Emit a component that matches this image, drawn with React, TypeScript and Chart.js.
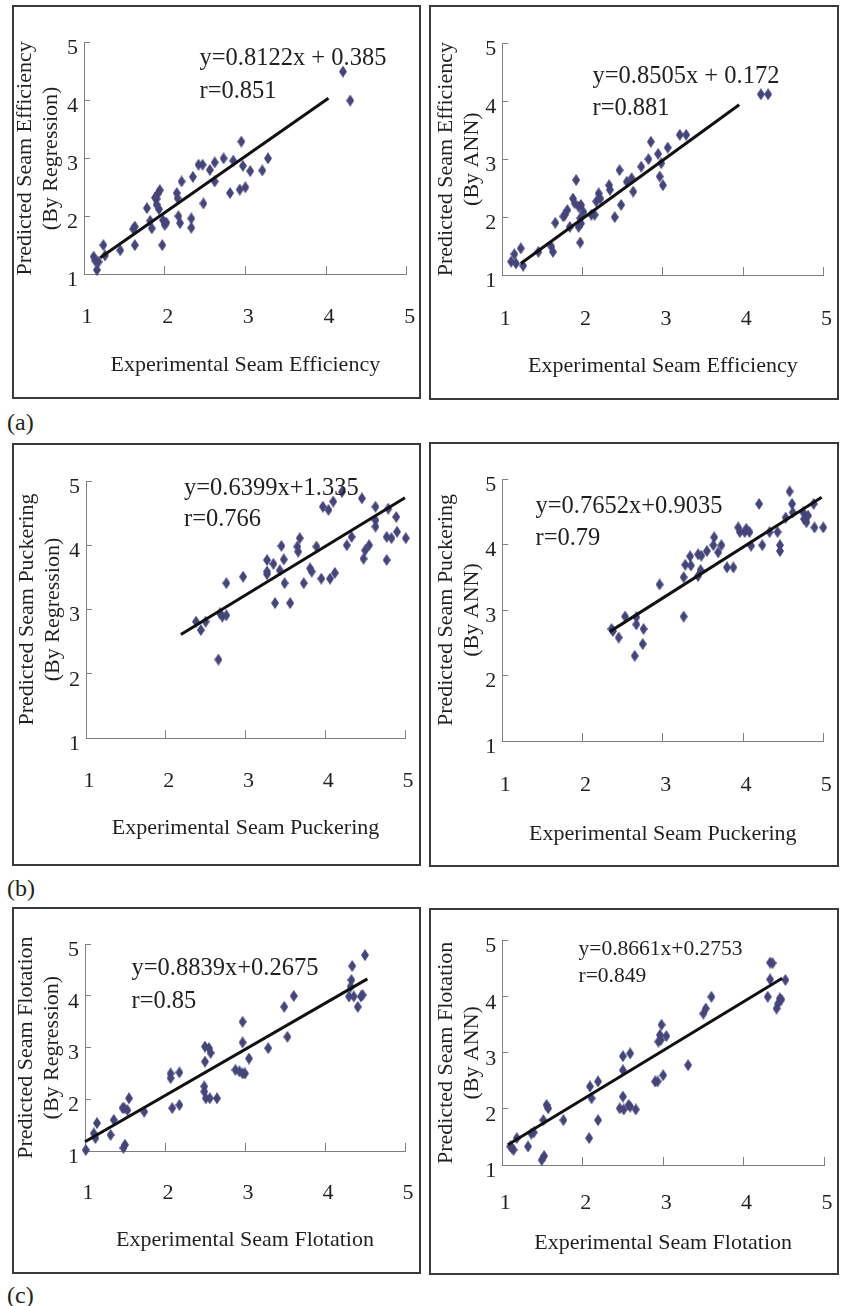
import React, { useEffect, useRef } from 'react';
import { Chart, registerables } from 'chart.js';

Chart.register(...registerables);

const FONT = '"Liberation Serif", "Times New Roman", serif';
const INK = '#231f20';
const MARK = '#45457a';
const AXIS = '#808080';

// ---------- (a) Seam efficiency ----------
const effRegX = [4.21, 4.30, 2.95, 2.73, 2.85, 3.28, 2.62, 2.56, 2.62, 2.42, 2.47, 2.35, 2.21, 2.97, 3.06, 3.21, 2.81, 2.93, 3.00, 2.48, 2.15, 2.16, 2.17, 2.19, 2.33, 2.33, 1.92, 1.90, 1.88, 1.94, 1.93, 1.90, 1.78, 1.82, 1.84, 1.98, 2.00, 2.02, 1.97, 1.63, 1.61, 1.63, 1.45, 1.24, 1.26, 1.12, 1.14, 1.18, 1.16];
const effRegY = [4.50, 4.00, 3.29, 3.00, 2.96, 3.00, 2.93, 2.80, 2.60, 2.89, 2.89, 2.68, 2.60, 2.87, 2.78, 2.79, 2.40, 2.46, 2.50, 2.22, 2.40, 2.31, 2.00, 1.88, 1.96, 1.80, 2.40, 2.30, 2.32, 2.45, 2.12, 2.20, 2.14, 1.92, 1.79, 1.93, 1.85, 1.89, 1.50, 1.82, 1.78, 1.50, 1.41, 1.50, 1.32, 1.30, 1.23, 1.21, 1.07];
const effRegLineX = [1.20, 4.03];
const effRegLineY = [1.28, 4.04];

const effAnnX = [4.22, 4.31, 3.21, 3.29, 2.85, 3.06, 2.94, 2.82, 2.73, 2.98, 2.96, 3.00, 2.46, 2.61, 2.55, 2.63, 2.48, 2.40, 2.33, 2.34, 2.20, 2.22, 2.17, 2.15, 2.11, 1.92, 1.88, 1.90, 1.95, 1.98, 2.01, 1.97, 1.98, 1.95, 1.97, 1.81, 1.78, 1.76, 1.84, 1.66, 1.61, 1.63, 1.45, 1.23, 1.15, 1.11, 1.17, 1.26];
const effAnnY = [4.12, 4.12, 3.42, 3.42, 3.30, 3.20, 3.09, 3.00, 2.87, 2.93, 2.70, 2.55, 2.81, 2.67, 2.61, 2.44, 2.21, 2.00, 2.55, 2.47, 2.41, 2.32, 2.27, 2.04, 2.04, 2.64, 2.32, 2.24, 2.18, 2.21, 2.09, 1.98, 1.89, 1.83, 1.56, 2.12, 2.04, 2.01, 1.83, 1.90, 1.49, 1.40, 1.40, 1.46, 1.36, 1.23, 1.20, 1.16];
const effAnnLineX = [1.23, 3.95];
const effAnnLineY = [1.20, 3.94];

// ---------- (b) Seam puckering ----------
const puckRegX = [2.38, 2.44, 2.50, 2.66, 2.68, 2.71, 2.76, 2.76, 2.97, 3.27, 3.27, 3.27, 3.35, 3.45, 3.48, 3.43, 3.49, 3.37, 3.56, 3.65, 3.68, 3.66, 3.73, 3.81, 3.83, 3.89, 3.95, 4.06, 4.12, 3.97, 4.04, 4.10, 4.21, 4.27, 4.33, 4.46, 4.48, 4.50, 4.55, 4.63, 4.63, 4.63, 4.77, 4.77, 4.79, 4.83, 4.89, 4.90, 5.01];
const puckRegY = [2.81, 2.68, 2.81, 2.22, 2.94, 2.89, 2.91, 3.41, 3.51, 3.77, 3.59, 3.55, 3.71, 3.99, 3.78, 3.61, 3.41, 3.10, 3.10, 3.98, 4.11, 3.90, 3.41, 3.64, 3.59, 3.98, 3.48, 3.48, 3.57, 4.60, 4.55, 4.68, 4.83, 4.00, 4.13, 4.73, 3.79, 3.92, 4.00, 4.60, 4.39, 4.29, 3.77, 4.13, 4.57, 4.11, 4.44, 4.21, 4.11];
const puckRegLineX = [2.19, 5.00];
const puckRegLineY = [2.61, 4.74];

const puckAnnX = [2.36, 2.38, 2.45, 2.53, 2.67, 2.67, 2.65, 2.76, 2.75, 2.96, 3.26, 3.26, 3.28, 3.34, 3.35, 3.44, 3.44, 3.48, 3.47, 3.55, 3.63, 3.64, 3.69, 3.73, 3.80, 3.88, 3.94, 3.96, 4.02, 4.04, 4.08, 4.10, 4.20, 4.24, 4.33, 4.43, 4.46, 4.46, 4.53, 4.58, 4.61, 4.62, 4.75, 4.76, 4.79, 4.81, 4.88, 4.89, 5.00];
const puckAnnY = [2.71, 2.68, 2.58, 2.90, 2.89, 2.78, 2.30, 2.71, 2.48, 3.39, 3.50, 2.90, 3.69, 3.82, 3.68, 3.52, 3.85, 3.83, 3.61, 3.90, 3.99, 4.11, 3.88, 3.99, 3.65, 3.65, 4.26, 4.19, 4.19, 4.24, 4.19, 3.98, 4.62, 3.99, 4.19, 4.19, 3.99, 3.90, 4.41, 4.81, 4.62, 4.49, 4.49, 4.39, 4.34, 4.44, 4.62, 4.26, 4.26];
const puckAnnLineX = [2.34, 4.98];
const puckAnnLineY = [2.67, 4.72];

// ---------- (c) Seam flotation ----------
const flotRegX = [1.01, 1.11, 1.13, 1.15, 1.32, 1.36, 1.47, 1.50, 1.49, 1.53, 1.55, 1.74, 2.07, 2.07, 2.18, 2.09, 2.18, 2.50, 2.55, 2.57, 2.50, 2.49, 2.49, 2.51, 2.56, 2.65, 2.88, 2.93, 2.97, 3.00, 2.97, 2.97, 3.05, 3.29, 3.49, 3.53, 3.61, 4.30, 4.34, 4.33, 4.36, 4.41, 4.45, 4.47, 4.50, 4.32, 1.48];
const flotRegY = [1.02, 1.34, 1.25, 1.54, 1.31, 1.60, 1.83, 1.12, 1.83, 1.79, 2.02, 1.76, 2.50, 2.41, 2.52, 1.83, 1.89, 3.02, 2.99, 2.90, 2.73, 2.25, 2.15, 2.02, 2.02, 2.02, 2.57, 2.54, 2.50, 2.50, 3.10, 3.50, 2.79, 2.99, 3.79, 3.21, 4.00, 3.99, 4.58, 4.31, 3.99, 3.79, 3.99, 4.02, 4.79, 4.18, 1.06];
const flotRegLineX = [1.00, 4.53];
const flotRegLineY = [1.18, 4.33];

const flotAnnX = [1.12, 1.14, 1.10, 1.18, 1.32, 1.39, 1.36, 1.49, 1.52, 1.51, 1.55, 1.57, 1.76, 2.08, 2.09, 2.11, 2.19, 2.19, 2.46, 2.50, 2.51, 2.57, 2.59, 2.66, 2.50, 2.50, 2.59, 2.90, 2.93, 3.00, 2.94, 2.97, 2.96, 2.98, 3.04, 3.31, 3.50, 3.53, 3.60, 4.30, 4.33, 4.33, 4.36, 4.41, 4.43, 4.45, 4.47, 4.52];
const flotAnnY = [1.30, 1.27, 1.33, 1.48, 1.33, 1.58, 1.56, 1.09, 1.16, 1.80, 2.07, 2.01, 1.80, 1.48, 2.40, 2.19, 2.49, 1.80, 2.01, 2.22, 1.99, 2.07, 2.04, 1.99, 2.69, 2.94, 2.99, 2.49, 2.49, 2.60, 3.20, 3.23, 3.32, 3.50, 3.30, 2.78, 3.70, 3.79, 4.00, 4.00, 4.31, 4.61, 4.60, 3.79, 3.88, 3.97, 3.95, 4.30];
const flotAnnLineX = [1.07, 4.48];
const flotAnnLineY = [1.36, 4.33];

// axis range / ticks
const axisMin = 1;
const axisMax = 5;
const axisStep = 1;

type Spec = {
  xs: number[]; ys: number[]; lx: number[]; ly: number[];
  xTitle: string; yTitle: string[]; eq: string; r: string;
  bx: number; by: number; bw: number; bh: number;
  padTop: number; padRight: number; yAxisW: number; xAxisH: number;
  xTickPad: number; xTitlePad: number; yTitlePad: number;
  eqX: number; eqY1: number; eqY2: number; eqSize: number;
};

const panels: Spec[] = [
  {
    xs: effRegX, ys: effRegY, lx: effRegLineX, ly: effRegLineY,
    xTitle: 'Experimental Seam Efficiency', yTitle: ['Predicted Seam Efficiency', '(By Regression)'],
    eq: 'y=0.8122x + 0.385', r: 'r=0.851',
    bx: 12, by: 5, bw: 409, bh: 394,
    padTop: 37.7, padRight: 14.3, yAxisW: 72, xAxisH: 125,
    xTickPad: 37.8, xTitlePad: 21, yTitlePad: 0.7,
    eqX: 187.5, eqY1: 53.5, eqY2: 87, eqSize: 24.5,
  },
  {
    xs: effAnnX, ys: effAnnY, lx: effAnnLineX, ly: effAnnLineY,
    xTitle: 'Experimental Seam Efficiency', yTitle: ['Predicted Seam Efficiency', '(By ANN)'],
    eq: 'y=0.8505x + 0.172', r: 'r=0.881',
    bx: 429, by: 5, bw: 410, bh: 395,
    padTop: 38.3, padRight: 15.5, yAxisW: 73.3, xAxisH: 125,
    xTickPad: 38.8, xTitlePad: 21, yTitlePad: 4.7,
    eqX: 163.5, eqY1: 72, eqY2: 104, eqSize: 24.5,
  },
  {
    xs: puckRegX, ys: puckRegY, lx: puckRegLineX, ly: puckRegLineY,
    xTitle: 'Experimental Seam Puckering', yTitle: ['Predicted Seam Puckering', '(By Regression)'],
    eq: 'y=0.6399x+1.335', r: 'r=0.766',
    bx: 12, by: 443, bw: 409, bh: 423,
    padTop: 38, padRight: 16, yAxisW: 74, xAxisH: 128,
    xTickPad: 38.5, xTitlePad: 25, yTitlePad: 2.5,
    eqX: 172, eqY1: 45.5, eqY2: 77, eqSize: 24.5,
  },
  {
    xs: puckAnnX, ys: puckAnnY, lx: puckAnnLineX, ly: puckAnnLineY,
    xTitle: 'Experimental Seam Puckering', yTitle: ['Predicted Seam Puckering', '(By ANN)'],
    eq: 'y=0.7652x+0.9035', r: 'r=0.79',
    bx: 429, by: 442, bw: 410, bh: 425,
    padTop: 37, padRight: 15.7, yAxisW: 73.3, xAxisH: 126,
    xTickPad: 38.6, xTitlePad: 20, yTitlePad: 4.7,
    eqX: 106.5, eqY1: 65, eqY2: 97, eqSize: 24.5,
  },
  {
    xs: flotRegX, ys: flotRegY, lx: flotRegLineX, ly: flotRegLineY,
    xTitle: 'Experimental Seam Flotation', yTitle: ['Predicted Seam Flotation', '(By Regression)'],
    eq: 'y=0.8839x+0.2675', r: 'r=0.85',
    bx: 12, by: 907, bw: 409, bh: 367,
    padTop: 37.3, padRight: 16, yAxisW: 73, xAxisH: 123,
    xTickPad: 36.8, xTitlePad: 21, yTitlePad: 1.7,
    eqX: 119.5, eqY1: 61.3, eqY2: 94.7, eqSize: 24.5,
  },
  {
    xs: flotAnnX, ys: flotAnnY, lx: flotAnnLineX, ly: flotAnnLineY,
    xTitle: 'Experimental Seam Flotation', yTitle: ['Predicted Seam Flotation', '(By ANN)'],
    eq: 'y=0.8661x+0.2753', r: 'r=0.849',
    bx: 429, by: 908, bw: 410, bh: 367,
    padTop: 32.7, padRight: 15, yAxisW: 73.3, xAxisH: 110,
    xTickPad: 32.8, xTitlePad: 19.3, yTitlePad: 4.7,
    eqX: 149.5, eqY1: 41.3, eqY2: 68.7, eqSize: 21.5,
  },
];

const groupLabels = [
  { text: '(a)', top: 409.5 },
  { text: '(b)', top: 876 },
  { text: '(c)', top: 1283 },
];

function makeDiamond(): HTMLCanvasElement {
  const c = document.createElement('canvas');
  c.width = 8;
  c.height = 12;
  const g = c.getContext('2d')!;
  g.fillStyle = MARK;
  g.beginPath();
  g.moveTo(4, 0);
  g.lineTo(8, 6);
  g.lineTo(4, 12);
  g.lineTo(0, 6);
  g.closePath();
  g.fill();
  return c;
}

function Panel({ p }: { p: Spec }) {
  const ref = useRef<HTMLCanvasElement>(null);
  useEffect(() => {
    const canvas = ref.current!;
    const diamond = makeDiamond();
    const pts = p.xs.map((x, i) => ({ x, y: p.ys[i] }));
    const line = p.lx.map((x, i) => ({ x, y: p.ly[i] }));
    const eqPlugin = {
      id: 'eqText',
      afterDraw(chart: any) {
        const ctx = chart.ctx as CanvasRenderingContext2D;
        ctx.save();
        ctx.font = `${p.eqSize}px ${FONT}`;
        ctx.fillStyle = INK;
        ctx.textBaseline = 'middle';
        ctx.textAlign = 'left';
        ctx.fillText(p.eq, p.eqX, p.eqY1);
        ctx.fillText(p.r, p.eqX, p.eqY2);
        ctx.restore();
      },
    };
    const noAutoPad = (s: any) => {
      s.paddingLeft = 0;
      s.paddingRight = 0;
      s.paddingTop = 0;
      s.paddingBottom = 0;
    };
    const chart = new Chart(canvas, {
      type: 'scatter',
      data: {
        datasets: [
          {
            data: line,
            showLine: true,
            borderColor: '#111111',
            borderWidth: 3,
            pointRadius: 0,
            clip: false,
          } as any,
          {
            data: pts,
            pointStyle: diamond as any,
            pointRadius: 6,
            backgroundColor: MARK,
            borderWidth: 0,
            clip: false,
          } as any,
        ],
      },
      options: {
        responsive: false,
        animation: false,
        devicePixelRatio: 1,
        layout: { autoPadding: false, padding: { left: 0, top: p.padTop, right: p.padRight, bottom: 0 } },
        plugins: { legend: { display: false }, tooltip: { enabled: false } },
        scales: {
          x: {
            type: 'linear',
            position: 'bottom',
            min: axisMin,
            max: axisMax,
            ticks: {
              stepSize: axisStep,
              padding: p.xTickPad,
              labelOffset: 3,
              maxRotation: 0,
              autoSkip: false,
              color: INK,
              font: { family: FONT, size: 22 },
            },
            grid: { drawOnChartArea: false, drawTicks: true, tickLength: -8, color: AXIS, lineWidth: 1 },
            border: { color: AXIS, width: 1 },
            title: {
              display: true,
              text: p.xTitle,
              color: INK,
              font: { family: FONT, size: 22, lineHeight: 1.18 },
              padding: { top: 0, bottom: p.xTitlePad },
            },
            afterFit: (s: any) => {
              s.height = p.xAxisH;
              noAutoPad(s);
            },
          },
          y: {
            type: 'linear',
            position: 'left',
            min: axisMin,
            max: axisMax,
            ticks: {
              stepSize: axisStep,
              padding: 12,
              labelOffset: 6,
              color: INK,
              font: { family: FONT, size: 22 },
            },
            grid: { drawOnChartArea: false, drawTicks: true, tickLength: -6, color: AXIS, lineWidth: 1 },
            border: { color: AXIS, width: 1 },
            title: {
              display: true,
              text: p.yTitle,
              color: INK,
              font: { family: FONT, size: 22, lineHeight: 1.18 },
              padding: { top: p.yTitlePad, bottom: 0 },
            },
            afterFit: (s: any) => {
              s.width = p.yAxisW;
              noAutoPad(s);
            },
          },
        },
      } as any,
      plugins: [eqPlugin],
    });
    return () => chart.destroy();
  }, [p]);

  return (
    <>
      <canvas
        ref={ref}
        width={p.bw}
        height={p.bh}
        style={{ position: 'absolute', left: p.bx, top: p.by, width: p.bw, height: p.bh }}
      />
      <div
        style={{
          position: 'absolute',
          left: p.bx,
          top: p.by,
          width: p.bw,
          height: p.bh,
          border: '2px solid #3a3a3a',
          boxSizing: 'border-box',
          pointerEvents: 'none',
        }}
      />
    </>
  );
}

export default function App() {
  return (
    <div
      style={{
        position: 'absolute',
        left: 0,
        top: 0,
        width: 843,
        height: 1306,
        background: '#ffffff',
        overflow: 'hidden',
      }}
    >
      {panels.map((p, i) => (
        <Panel key={i} p={p} />
      ))}
      {groupLabels.map((g) => (
        <div
          key={g.text}
          style={{
            position: 'absolute',
            left: 7,
            top: g.top,
            fontFamily: FONT,
            fontSize: 24,
            lineHeight: '24px',
            color: INK,
          }}
        >
          {g.text}
        </div>
      ))}
    </div>
  );
}
